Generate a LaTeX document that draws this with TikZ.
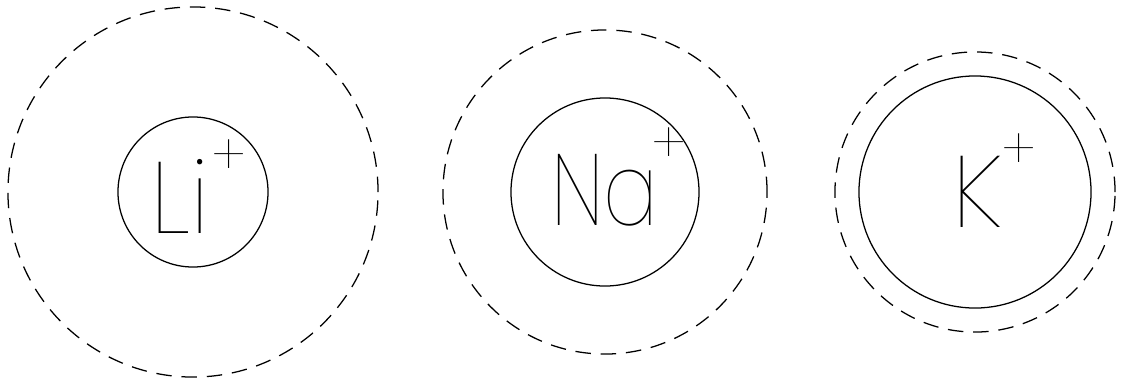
\documentclass[tikz,border=0pt]{standalone}
\usepackage{fontspec}
\usepackage{tikz}
\usetikzlibrary{positioning}
\newfontfamily\ionfont{Poppins Thin}
% ion symbol, kern before the charge, lift of the charge
\newcommand{\ionlabel}[3]{{\fontsize{72}{72}\selectfont #1}\kern#2\raisebox{#3}{\fontsize{40}{40}\selectfont +}}

\begin{document}
\begin{tikzpicture}[
  x=0.025cm, y=-0.025cm,
  ion/.style={circle, draw, line width=0.9pt, inner sep=0pt},
  shell/.style={circle, draw, line width=0.9pt, inner sep=0pt, dash pattern=on 11pt off 7pt},
  label/.style={inner sep=0pt, font=\ionfont}
]
\useasboundingbox (0,0) rectangle (1124,383);
\node (lishell) [shell, minimum size=9.25cm] at (193,192) {};
\node (li) [ion, minimum size=3.75cm] at (193,192) {};
\node (nashell) [shell, minimum size=8.1cm] at (605,192) {};
\node (na) [ion, minimum size=4.7cm] at (605,192) {};
\node (kshell) [shell, minimum size=7cm] at (975,192) {};
\node (k) [ion, minimum size=5.8cm] at (975,192) {};

\node (litext) [label, anchor=base west] at (150,233) {\ionlabel{Li}{2pt}{41pt}};
\node (natext) [label, anchor=base west] at (551,225) {\ionlabel{\scalebox{0.8}[1]{Na}}{-4pt}{44pt}};
\node (ktext) [label, anchor=base west] at (952,227) {\ionlabel{K}{0pt}{41pt}};
\end{tikzpicture}
\end{document}
